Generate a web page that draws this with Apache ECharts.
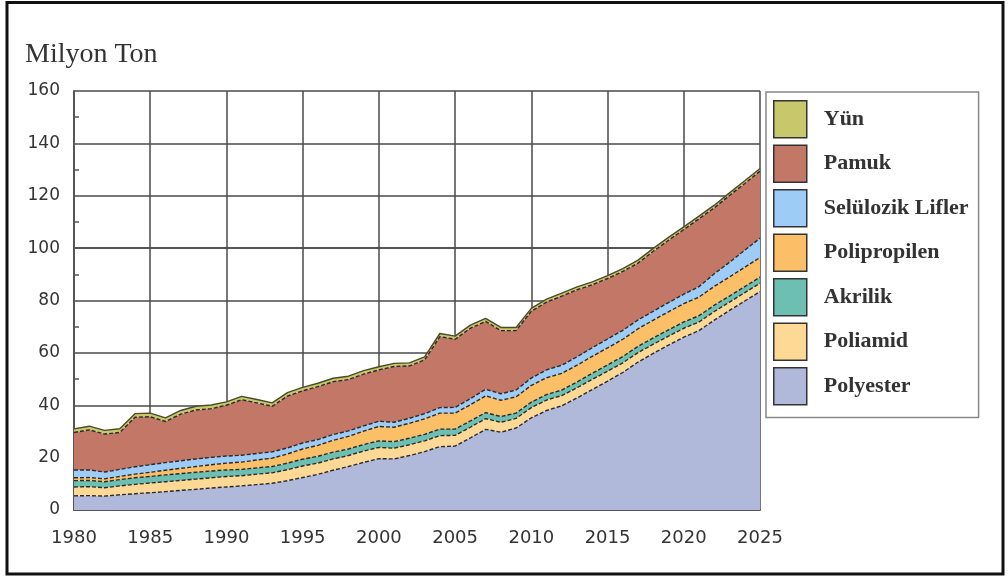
<!DOCTYPE html>
<html>
<head>
<meta charset="utf-8">
<script src="https://cdn.jsdelivr.net/npm/echarts@6/dist/echarts.min.js"></script>
<style>
html,body{margin:0;padding:0;background:#fff;}
#c{width:1008px;height:581px;}
</style>
</head>
<body>
<div id="c"></div>
<script>
const years = [1980,1981,1982,1983,1984,1985,1986,1987,1988,1989,1990,1991,1992,1993,1994,1995,1996,1997,1998,1999,2000,2001,2002,2003,2004,2005,2006,2007,2008,2009,2010,2011,2012,2013,2014,2015,2016,2017,2018,2019,2020,2021,2022,2023,2024,2025];
const polyester = [5.4,5.5,5.3,5.8,6.2,6.6,7.0,7.5,7.9,8.4,8.8,9.2,9.7,10.2,11.2,12.4,13.6,15.2,16.6,18.2,19.6,19.5,20.8,22.3,24.2,24.4,27.5,30.8,29.7,31.3,35.2,38.0,39.8,42.8,46.0,49.2,52.5,56.5,59.8,63.0,66.0,68.5,72.5,76.2,79.8,83.4];
const poliamid = [3.4,3.4,3.2,3.4,3.6,3.7,3.8,3.8,3.9,3.9,4.0,3.9,4.0,4.0,4.2,4.4,4.3,4.3,4.2,4.3,4.3,4.1,4.1,4.1,4.2,4.1,4.1,4.1,3.8,3.7,3.9,4.0,3.9,3.9,3.9,3.8,3.7,3.6,3.5,3.4,3.4,3.3,3.3,3.2,3.2,3.2];
const akrilik = [2.4,2.4,2.3,2.4,2.5,2.5,2.6,2.6,2.6,2.6,2.5,2.4,2.4,2.4,2.5,2.6,2.6,2.6,2.5,2.5,2.5,2.5,2.5,2.5,2.5,2.4,2.4,2.3,2.2,2.0,2.1,2.1,2.1,2.2,2.3,2.4,2.4,2.4,2.4,2.4,2.4,2.4,2.4,2.3,2.3,2.3];
const polipropilen = [1.1,1.1,1.1,1.2,1.4,1.6,1.8,2.0,2.2,2.4,2.6,2.8,3.0,3.2,3.5,3.9,4.2,4.5,4.8,5.1,5.5,5.5,5.7,5.9,6.1,6.1,6.2,6.4,6.2,6.2,6.4,6.4,6.4,6.4,6.5,6.5,6.6,6.7,6.8,6.9,7.0,7.1,7.2,7.3,7.4,7.5];
const selulozik = [3.0,2.9,2.6,2.7,2.8,2.9,2.9,2.9,2.9,2.8,2.7,2.6,2.5,2.4,2.3,2.3,2.2,2.2,2.1,2.0,2.0,1.9,1.9,2.0,2.1,2.2,2.3,2.5,2.5,2.6,2.8,3.0,3.1,3.2,3.3,3.4,3.4,3.4,3.4,3.5,3.6,4.0,4.8,5.6,6.5,7.4];
const pamuk = [14.3,15.3,14.5,14.1,18.9,18.3,15.7,17.8,18.7,18.6,19.4,21.2,19.3,17.4,19.8,19.9,20.2,20.2,19.6,19.8,19.6,21.3,20.0,20.5,27.1,26.0,26.9,25.9,24.1,22.7,25.5,25.9,26.4,25.6,24.0,23.1,22.5,21.7,22.9,23.8,24.7,25.9,25.2,25.5,25.5,25.6];
const yun = [1.4,1.4,1.4,1.4,1.4,1.4,1.4,1.4,1.4,1.4,1.3,1.3,1.3,1.3,1.3,1.3,1.3,1.3,1.3,1.3,1.2,1.2,1.2,1.2,1.2,1.2,1.2,1.2,1.2,1.2,1.1,1.1,1.1,1.1,1.1,1.1,1.1,1.1,1.1,1.1,1.0,1.0,1.0,1.0,1.0,1.0];

const seriesDefs = [
  {name:'Polyester', data:polyester, color:'#b1b9da'},
  {name:'Poliamid', data:poliamid, color:'#fdd995'},
  {name:'Akrilik', data:akrilik, color:'#6dbfb2'},
  {name:'Polipropilen', data:polipropilen, color:'#fbbf68'},
  {name:'Selülozik Lifler', data:selulozik, color:'#9dcdf7'},
  {name:'Pamuk', data:pamuk, color:'#c27767'},
  {name:'Yün', data:yun, color:'#c6c86b'}
];

const chart = echarts.init(document.getElementById('c'), null, {renderer:'canvas'});
const splitColors = ['#4a4a4a','#4a4a4a','#4a4a4a','#4a4a4a','#4a4a4a','#1e1e1e','#4a4a4a','#4a4a4a','#4a4a4a'];
chart.setOption({
  animation:false,
  backgroundColor:'#fff',
  title:{
    text:'Milyon Ton', left:20, top:36,
    textStyle:{fontFamily:'Liberation Serif', fontSize:28, fontWeight:'normal', color:'#333'}
  },
  grid:{left:74, top:91, right:248, bottom:71, containLabel:false},
  legend:{
    orient:'vertical', left:766, top:92,
    data:['Yün','Pamuk','Selülozik Lifler','Polipropilen','Akrilik','Poliamid','Polyester'],
    icon:'rect', itemWidth:33, itemHeight:37, itemGap:6,
    padding:[8,10,12,7],
    backgroundColor:'#fff', borderColor:'#888', borderWidth:1.5,
    itemStyle:{borderColor:'#333', borderWidth:1.5},
    textStyle:{fontFamily:'Liberation Serif', fontSize:22, lineHeight:22, fontWeight:'bold', color:'#333', padding:[10,0,0,12]}
  },
  xAxis:{
    type:'value', min:1980, max:2025, interval:5,
    axisLine:{show:true, lineStyle:{color:'#555', width:2}},
    axisTick:{show:false},
    minorTick:{show:true, splitNumber:2, length:-5, lineStyle:{color:'#555', width:1.5}},
    splitLine:{show:true, lineStyle:{color:'#4a4a4a', width:1.5}},
    axisLabel:{margin:19, fontFamily:'DejaVu Sans', fontSize:18, color:'#333', formatter:v=>String(v)}
  },
  yAxis:{
    type:'value', min:0, max:160, interval:20,
    axisLine:{show:true, lineStyle:{color:'#555', width:2}},
    axisTick:{show:false},
    minorTick:{show:true, splitNumber:2, length:-5, lineStyle:{color:'#555', width:1.5}},
    splitLine:{show:true, lineStyle:{color:splitColors, width:1.5}},
    axisLabel:{margin:14, fontFamily:'DejaVu Sans', fontSize:17, color:'#333'}
  },
  graphic:[{
    type:'rect', z:100, silent:true,
    shape:{x:7, y:2.5, width:996, height:571.5},
    style:{fill:'none', stroke:'#111', lineWidth:3}
  }],
  series: seriesDefs.map((s, i) => ({
    name:s.name, type:'line', stack:'total',
    data: years.map((y, k) => [s.data[k], y]),
    encode:{x:1, y:0},
    symbol:'none', smooth:false,
    color:s.color,
    itemStyle:{color:s.color},
    lineStyle:{color: i === 6 ? '#4a4a2a' : '#2a2a2a', width:1.4, type: i === 6 ? 'solid' : [4,2]},
    areaStyle:{color:s.color, opacity:1}
  }))
});
</script>
</body>
</html>
